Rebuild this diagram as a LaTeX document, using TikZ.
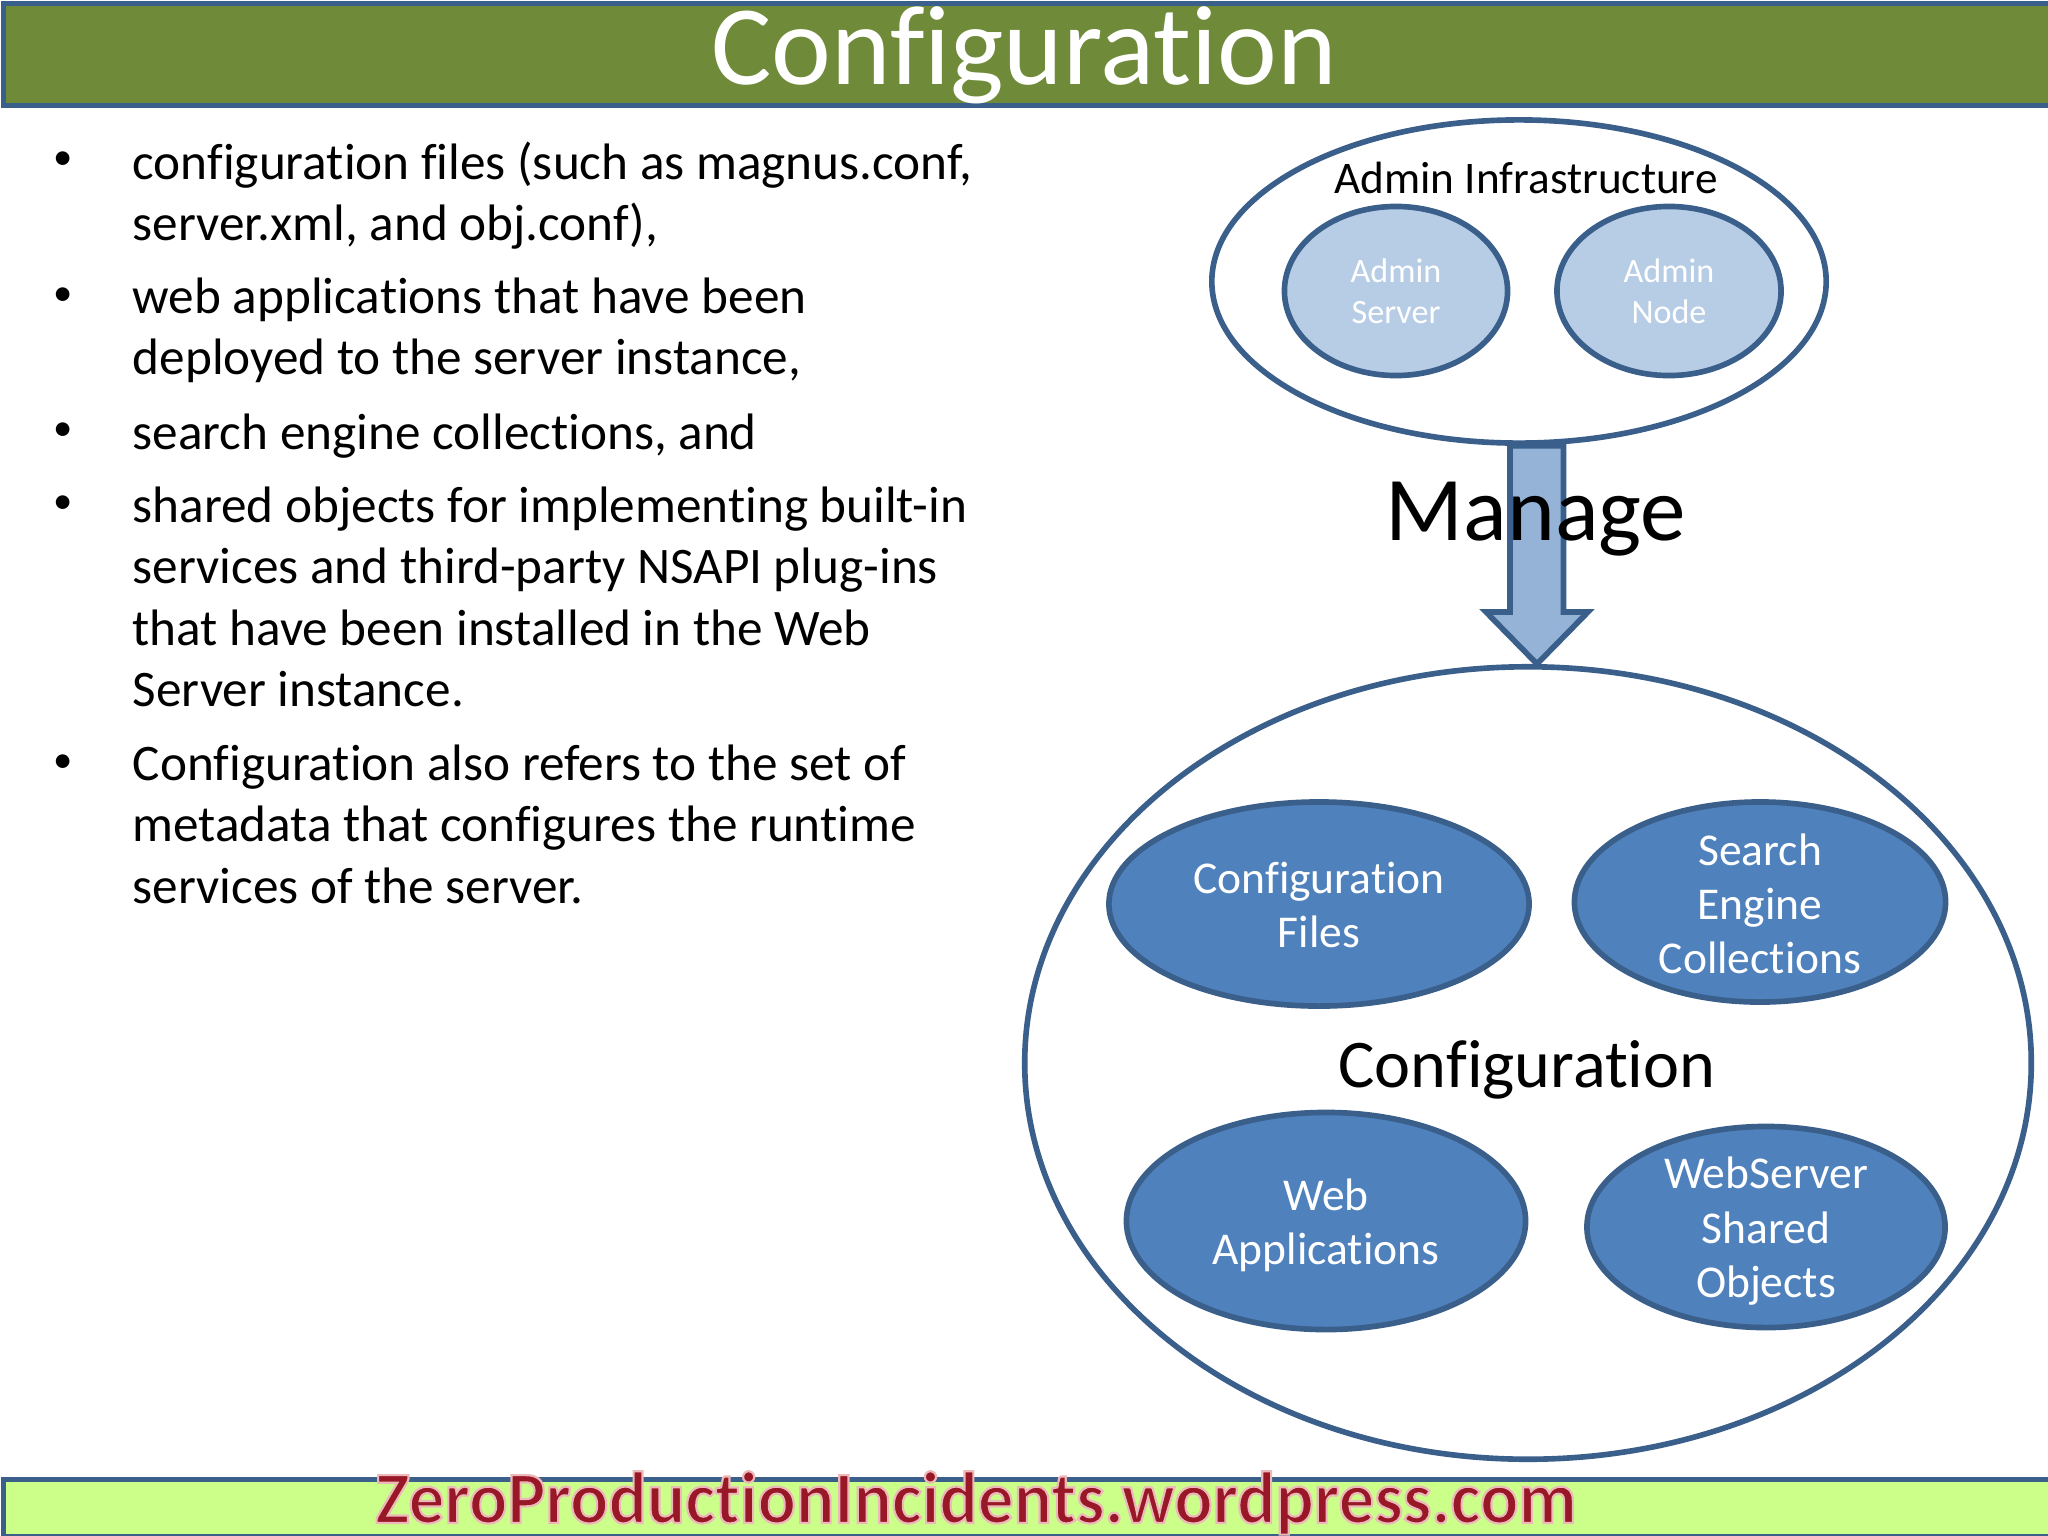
\documentclass[tikz,border=0pt]{standalone}
\usepackage{fontspec}
\setmainfont[Ligatures=NoCommon]{Carlito}
\newfontfamily\footfont[Ligatures=NoCommon,FakeBold=3]{Carlito Bold}
\usetikzlibrary{shapes.geometric,calc}
\definecolor{bdr}{HTML}{3A5F8B}
\definecolor{olive}{HTML}{6F8B3A}
\definecolor{lime}{HTML}{CCFF8A}
\definecolor{midblue}{HTML}{4F81BD}
\definecolor{paleblue}{HTML}{B7CDE6}
\definecolor{arrowblue}{HTML}{95B3D7}
\definecolor{footred}{HTML}{981828}
\newcommand{\fsl}[2]{\fontsize{#1}{#2}\selectfont}
\newcommand{\dn}[2]{\vbox{\vskip#1\hbox{\begin{tabular}{@{}c@{}}#2\end{tabular}}}}
\tikzset{
 x=0.01cm,y=-0.01cm,
 bar/.style={draw=bdr,line width=1.3pt},
 outer/.style={ellipse,draw=bdr,line width=1.6pt,fill=white,inner sep=0pt},
 deep/.style={ellipse,draw=bdr,line width=1.6pt,fill=midblue,inner sep=-0.6cm,text=white,font={\fsl{12.95}{15.4}}},
 pale/.style={ellipse,draw=bdr,line width=1.6pt,fill=paleblue,inner sep=-0.3cm,text=white,font={\fsl{9.7}{11.6}}},
 blockarrow/.style={draw=bdr,line width=1.6pt,fill=arrowblue,line join=miter},
 para/.style={anchor=north west,inner sep=0pt,align=left,font={\fsl{14.57}{17.5}}},
 dot/.style={inner sep=0pt,font={\fsl{11}{12}}},
}
\begin{document}
\begin{tikzpicture}
\useasboundingbox (0,0) rectangle (2048,1536);
\fill[white] (0,0) rectangle (2048,1536);
% bars
\node[bar,fill=olive,minimum width=20.46cm,minimum height=1.02cm,inner sep=0pt,anchor=north west] (titlebar) at (1,1) {};
\node[text=white,inner sep=0pt,font={\fsl{32.2}{36}}] (title) at (1024,55) {Configuration};
\node[bar,fill=lime,minimum width=20.46cm,minimum height=0.57cm,inner sep=0pt,anchor=north west] (footbar) at (1,1477) {};
\node[text=footred,inner sep=0pt,anchor=base,font={\footfont\fsl{21}{23}},xscale=0.968] (foot) at (976,1523) {\special{pdf:code 0.93 0.72 0.72 RG}ZeroProductionIncidents.wordpress.com};
% bullets
\foreach \n/\yy in {a/161,b/297,c/432,d/505,e/764}{\node[dot] (dot\n) at (63,\yy) {•};}
\node[para] (pa) at (132,141) {configuration files (such as magnus.conf,\\server.xml, and obj.conf),};
\node[para] (pb) at (132,277) {web applications that have been\\deployed to the server instance,};
\node[para] (pc) at (132,413) {search engine collections, and};
\node[para] (pd) at (132,486) {shared objects for implementing built-in\\services and third-party NSAPI plug-ins\\that have been installed in the Web\\Server instance.};
\node[para] (pe) at (132,744) {Configuration also refers to the set of\\metadata that configures the runtime\\services of the server.};
% diagram
\node[outer,minimum width=6.14cm,minimum height=3.23cm] (adminO) at (1519,281.5) {};
\node[outer,minimum width=10.06cm,minimum height=7.92cm] (cfgO) at (1528,1063) {};
\coordinate (atop) at ($(adminO.south)+(18,0)$);
\coordinate (atip) at ($(cfgO.north)+(9,0)$);
\draw[blockarrow] (atip) -- ++(-51,-52) -- ++(24,0) |- (atop) -- ++(26.5,0) |- ($(atip)+(27,-52)$) -- ++(24,0) -- cycle;
\node[inner sep=0pt,font={\fsl{12.86}{15}}] (adminT) at (1526,178) {Admin Infrastructure};
\node[pale,minimum width=2.23cm,minimum height=1.69cm] (as) at (1396,291) {\dn{2.3pt}{Admin\\Server}};
\node[pale,minimum width=2.24cm,minimum height=1.69cm] (an) at (1669,291) {\dn{2.3pt}{Admin\\Node}};
\node[inner sep=0pt,font={\fsl{25.9}{30}}] (manage) at (1536,519) {Manage};
\node[inner sep=0pt,font={\fsl{19.4}{22}}] (cfgT) at (1527,1070) {Configuration};
\node[deep,minimum width=4.2cm,minimum height=2.04cm] (cf) at (1319,904) {\dn{3.4pt}{Configuration\\Files}};
\node[deep,minimum width=3.71cm,minimum height=2cm] (se) at (1760,902) {\dn{3.6pt}{Search\\Engine\\Collections}};
\node[deep,minimum width=3.99cm,minimum height=2.17cm] (wa) at (1326,1221) {\dn{3pt}{Web\\Applications}};
\node[deep,minimum width=3.58cm,minimum height=2.01cm] (ws) at (1766,1227) {\dn{3pt}{WebServer\\Shared\\Objects}};
\end{tikzpicture}
\end{document}
